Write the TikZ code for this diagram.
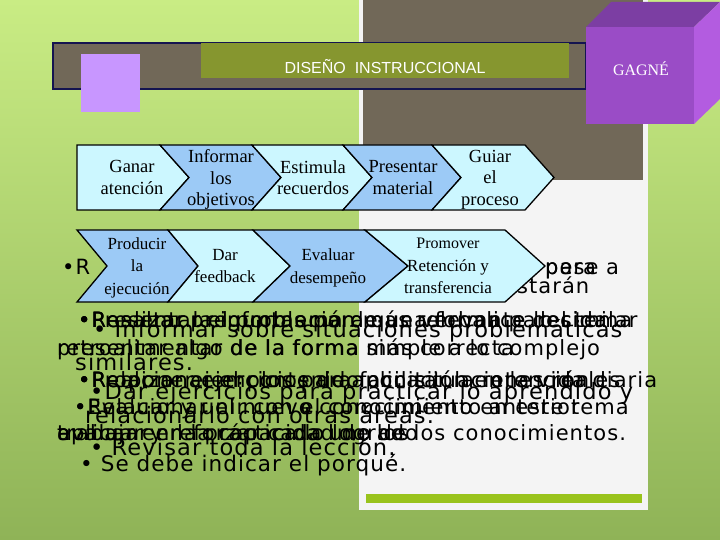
\documentclass[tikz,border=0pt]{standalone}
\usepackage{fontspec}
\setmainfont{Liberation Serif}
\newfontfamily\bodyfont[LetterSpace=5]{DejaVu Sans}
\newfontfamily\titlefont{Liberation Sans}
\definecolor{bgtop}{HTML}{C9EC84}
\definecolor{bgbot}{HTML}{8FB357}
\definecolor{panel}{HTML}{716858}
\definecolor{paper}{HTML}{F4F4F4}
\definecolor{bar}{HTML}{99C31C}
\definecolor{navy}{HTML}{141450}
\definecolor{olive}{HTML}{86962F}
\definecolor{lilac}{HTML}{C896FF}
\definecolor{cubefront}{HTML}{9A4CC6}
\definecolor{cubetop}{HTML}{7C3EA3}
\definecolor{cubeside}{HTML}{B35CE0}
\definecolor{cyanbox}{HTML}{CCF7FF}
\definecolor{bluebox}{HTML}{9CCAF6}

\begin{document}
\begin{tikzpicture}[x=1pt, y=-1pt,
  chev/.style = {draw=black, line width=1.3pt, line join=miter},
  lblA/.style = {inner sep=0pt, align=center, font=\fontsize{18.5}{21.5}\selectfont},
  lblB/.style = {inner sep=0pt, align=center, font=\fontsize{17}{22.5}\selectfont},
  bodytxt/.style = {anchor=base west, inner sep=0pt, font=\fontsize{21}{25}\bodyfont},
  cleartxt/.style = {bodytxt, font=\fontsize{22.5}{26}\bodyfont}]
\useasboundingbox (0,0) rectangle (720,540);
\fill[top color=bgtop, bottom color=bgbot] (0,0) rectangle (720,540);
\fill[paper] (359,0) rectangle (648,510);
\fill[panel] (363,0) rectangle (643,180);
\fill[bar] (366,494) rectangle (642,503);

\draw[navy, line width=1.2pt, fill=panel] (53,43) rectangle (586,89);
\fill[lilac] (81,54) rectangle (140,112);
\fill[olive] (201,43) rectangle (569,78);
\node[text=white, font=\fontsize{16}{18}\titlefont] (title) at (385,67) {DISEÑO\ \ INSTRUCCIONAL};

\fill[cubetop] (586,27) -- (611,2) -- (720,2) -- (694,27) -- cycle;
\fill[cubeside] (694,27) -- (720,2) -- (720,99) -- (694,124) -- cycle;
\fill[cubefront] (586,27) rectangle (694,124);
\node[text=white, font=\fontsize{16}{18}\selectfont] (gagne) at (641,69) {GAGNÉ};

\node[bodytxt] (r0a) at (62,274) {•R};
\node[bodytxt] (r0b) at (545,274) {pese a};
\node[bodytxt] (r0c) at (545,274) {para};
\node[bodytxt] (r0d) at (503,293) {estarán};
\node[bodytxt] (r1a) at (78,327) {•Resaltar la información más relevante del tema};
\node[bodytxt] (r1b) at (78,327) {•Realizar preguntas para que verbalice lo similar};
\node[bodytxt] (r1c) at (78,327) {•Presentar el problema de una forma parecida};
\node[bodytxt] (r2a) at (57,355) {presentar algo de la forma simple a lo complejo};
\node[bodytxt] (r2b) at (57,355) {retroalimentar de la forma más correcta};
\node[bodytxt] (r3a) at (78,387) {•Proponer ejercicios de aplicación en la vida diaria};
\node[bodytxt] (r3b) at (78,387) {•Relacionar el contenido con situaciones reales};
\node[bodytxt] (r3c) at (78,387) {•Realizar ejemplos para facilitar la retención};
\node[bodytxt] (r4a) at (74,414) {•Relacionar el nuevo conocimiento en este tema};
\node[bodytxt] (r4b) at (74,414) {•Evaluar y unir con el conocimiento anterior};
\node[bodytxt] (r5a) at (57,440) {trabajar en la capacidad de los};
\node[bodytxt] (r5b) at (57,440) {aplicar en la práctica lo logrado};
\node[bodytxt] (r5c) at (57,440) {evaluar y reforzar cada uno de los conocimientos.};

\node[cleartxt] (s1) at (93,337) {• Informar sobre situaciones problemáticas};
\node[cleartxt] (s2) at (75,370) {similares.};
\node[cleartxt] (s3) at (90,399) {•Dar ejercicios para practicar lo aprendido y};
\node[cleartxt] (s4) at (85,423) {relacionarlo con otras áreas.};
\node[cleartxt] (s5) at (90,455) {• Revisar toda la lección.};
\node[bodytxt, font=\fontsize{21.5}{25}\bodyfont] (s6) at (80,471) {• Se debe indicar el porqué.};

\foreach \nm/\xa/\xb/\nt/\dp/\cx/\col/\txt in {
g1/77/160/0/29/132/cyanbox/{Ganar\\atención},
g2/160/252/29/29/221/bluebox/{Informar\\los\\objetivos},
g3/252/343/29/29/313/cyanbox/{Estimula\\recuerdos},
g4/343/432/29/29/403/bluebox/{Presentar\\material},
g5/432/525/29/29/490/cyanbox/{Guiar\\el\\proceso}}{
\draw[chev, fill=\col] (\xa,145) -- (\xb,145) -- ({\xb+\dp},177.5) -- (\xb,210)
  -- (\xa,210) -- ({\xa+\nt},177.5) -- cycle;
\node[lblA] (\nm) at (\cx,177.5) {\txt};
}
\foreach \nm/\xa/\xb/\nt/\dp/\cx/\col/\txt in {
p1/77/168/30/30/137/bluebox/{Producir\\la\\ejecución},
p2/168/253/30/37/225/cyanbox/{Dar\\feedback},
p3/253/365/37/43/328/bluebox/{Evaluar\\desempeño},
p4/365/505/43/40/448/cyanbox/{\fontsize{16}{21.5}\selectfont Promover\\Retención y\\transferencia}}{
\draw[chev, fill=\col] (\xa,230) -- (\xb,230) -- ({\xb+\dp},266) -- (\xb,302)
  -- (\xa,302) -- ({\xa+\nt},266) -- cycle;
\node[lblB] (\nm) at (\cx,266) {\txt};
}
\end{tikzpicture}
\end{document}
